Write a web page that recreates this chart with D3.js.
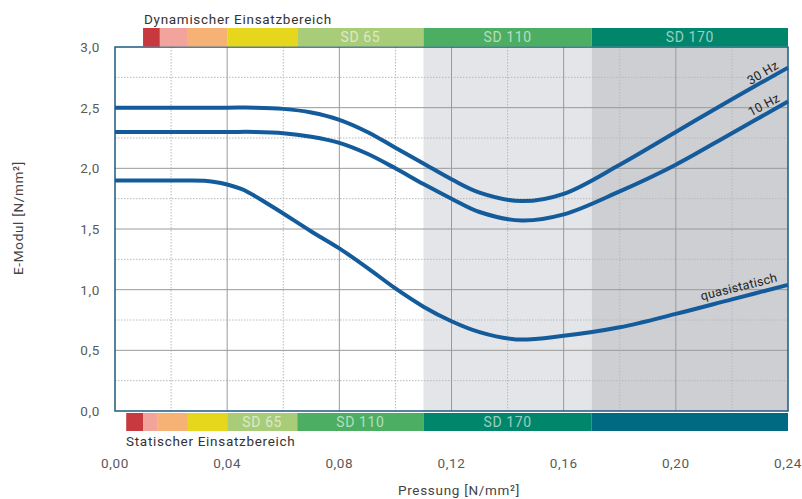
<!DOCTYPE html>
<html><head><meta charset="utf-8">
<script src="https://cdn.jsdelivr.net/npm/d3@7"></script>
<style>body{margin:0;background:#fff}svg{display:block}text{font-family:"Roboto","Liberation Sans",sans-serif}</style>
</head><body><svg id="c" width="802" height="499"></svg>
<script>
const pressure = [0, 0.02, 0.04, 0.05, 0.06, 0.07, 0.08, 0.09, 0.10, 0.11, 0.12, 0.13, 0.145, 0.16, 0.18, 0.20, 0.22, 0.24];
const hz30 =     [2.50, 2.50, 2.50, 2.50, 2.49, 2.46, 2.40, 2.30, 2.17, 2.04, 1.91, 1.80, 1.73, 1.79, 2.03, 2.30, 2.57, 2.83];
const hz10 =     [2.30, 2.30, 2.30, 2.30, 2.29, 2.26, 2.21, 2.12, 2.00, 1.87, 1.75, 1.64, 1.57, 1.62, 1.81, 2.03, 2.29, 2.55];
const quasiX =   [0, 0.015, 0.025, 0.035, 0.045, 0.055, 0.07, 0.08, 0.09, 0.10, 0.11, 0.12, 0.13, 0.143, 0.16, 0.18, 0.20, 0.22, 0.24];
const quasi =    [1.90, 1.90, 1.90, 1.89, 1.83, 1.70, 1.48, 1.34, 1.18, 1.01, 0.86, 0.74, 0.65, 0.59, 0.62, 0.69, 0.80, 0.92, 1.04];
const xTicks = [0, 0.04, 0.08, 0.12, 0.16, 0.20, 0.24];
const yTicks = [0, 0.5, 1.0, 1.5, 2.0, 2.5, 3.0];
const shadeBands = [[0.11, 0.17, "#e3e5e8"], [0.17, 0.24, "#cdcfd3"]];
const dynBreaks = [0.010, 0.016, 0.026, 0.040, 0.065, 0.110, 0.170, 0.240];
const dynColors = ["#c8393f", "#f2a39b", "#f6b274", "#e6d71c", "#a9cc79", "#4bae63", "#00876b"];
const dynLabels = ["", "", "", "", "SD 65", "SD 110", "SD 170"];
const statBreaks = [0.004, 0.010, 0.015, 0.026, 0.040, 0.065, 0.110, 0.170, 0.240];
const statColors = ["#c8393f", "#f2a39b", "#f6b274", "#e6d71c", "#a9cc79", "#4bae63", "#00876b", "#006a83"];
const statLabels = ["", "", "", "", "SD 65", "SD 110", "SD 170", ""];

const svg = d3.select("#c");
const L = 115, R = 788, T = 47, B = 411;
const x = d3.scaleLinear().domain([0, 0.24]).range([L, R]);
const y = d3.scaleLinear().domain([0, 3]).range([B, T]);
const fmt = v => d3.format(".2f")(v).replace(".", ",");
const fmtY = v => d3.format(".1f")(v).replace(".", ",");

svg.selectAll("rect.shade").data(shadeBands).join("rect")
  .attr("x", d => x(d[0])).attr("width", d => x(d[1]) - x(d[0]))
  .attr("y", T).attr("height", B - T).attr("fill", d => d[2]);

const g = svg.append("g");
const vMinor = d3.range(0.02, 0.24, 0.04);
const hMinor = d3.range(0.25, 3, 0.5);
g.selectAll("line.vm").data(vMinor).join("line")
  .attr("x1", d => x(d)).attr("x2", d => x(d)).attr("y1", T).attr("y2", B)
  .attr("stroke", "#b8b8b8").attr("stroke-dasharray", "1.5,1.5");
g.selectAll("line.hm").data(hMinor).join("line")
  .attr("y1", d => y(d)).attr("y2", d => y(d)).attr("x1", L).attr("x2", R)
  .attr("stroke", "#b8b8b8").attr("stroke-dasharray", "1.5,1.5");
g.selectAll("line.vM").data(xTicks.slice(1, -1)).join("line")
  .attr("x1", d => x(d)).attr("x2", d => x(d)).attr("y1", T).attr("y2", B)
  .attr("stroke", "#9a9a9a");
g.selectAll("line.hM").data(yTicks.slice(1, -1)).join("line")
  .attr("y1", d => y(d)).attr("y2", d => y(d)).attr("x1", L).attr("x2", R)
  .attr("stroke", "#9a9a9a");

svg.append("rect").attr("x", L).attr("y", T).attr("width", R - L).attr("height", B - T)
  .attr("fill", "none").attr("stroke", "#1d5a80").attr("stroke-width", 1.5);

function bar(breaks, colors, labels, y0, h) {
  const segs = colors.map((c, i) => ({a: breaks[i], b: breaks[i + 1], c, t: labels[i]}));
  svg.selectAll(null).data(segs).join("rect")
    .attr("x", d => x(d.a)).attr("width", d => x(d.b) - x(d.a))
    .attr("y", y0).attr("height", h).attr("fill", d => d.c);
  svg.selectAll(null).data(segs.filter(d => d.t)).join("text")
    .attr("x", d => (x(d.a) + x(d.b)) / 2).attr("y", y0 + h / 2 + 5)
    .attr("text-anchor", "middle").attr("font-size", 14).attr("letter-spacing", 0.6)
    .attr("fill", "rgba(255,255,255,0.6)").text(d => d.t);
}
bar(dynBreaks, dynColors, dynLabels, 28, 18.5);
bar(statBreaks, statColors, statLabels, 413, 18);

svg.append("text").attr("x", 144).attr("y", 24).attr("font-size", 13.5).attr("letter-spacing", 0.7)
  .attr("fill", "#333").text("Dynamischer Einsatzbereich");
svg.append("text").attr("x", 126).attr("y", 446).attr("font-size", 13.5).attr("letter-spacing", 0.7)
  .attr("fill", "#333").text("Statischer Einsatzbereich");

svg.selectAll("text.xt").data(xTicks).join("text")
  .attr("x", d => x(d)).attr("y", 468).attr("text-anchor", "middle")
  .attr("font-size", 13.5).attr("letter-spacing", 0.6).attr("fill", "#5a5a5a").text(fmt);
svg.selectAll("text.yt").data(yTicks).join("text")
  .attr("x", 100).attr("y", d => y(d) + 5).attr("text-anchor", "end")
  .attr("font-size", 13.5).attr("letter-spacing", 0.6).attr("fill", "#5a5a5a").text(fmtY);
svg.append("text").attr("x", 459).attr("y", 495).attr("text-anchor", "middle")
  .attr("font-size", 13.5).attr("letter-spacing", 0.7).attr("fill", "#444").text("Pressung [N/mm²]");
svg.append("text").attr("transform", "translate(23,218) rotate(-90)").attr("text-anchor", "middle")
  .attr("font-size", 13.5).attr("letter-spacing", 0.7).attr("fill", "#444").text("E-Modul [N/mm²]");

const line = d3.line().x(d => x(d[0])).y(d => y(d[1])).curve(d3.curveCatmullRom.alpha(0.5));
const series = [d3.zip(pressure, hz30), d3.zip(pressure, hz10), d3.zip(quasiX, quasi)];
svg.selectAll("path.s").data(series).join("path")
  .attr("d", line).attr("fill", "none").attr("stroke", "#135b9b").attr("stroke-width", 4)
  .attr("stroke-linecap", "butt");

const lab = [["30 Hz", 763, 73, -31], ["10 Hz", 764, 105, -28], ["quasistatisch", 739, 287, -14]];
svg.selectAll("text.cl").data(lab).join("text")
  .attr("transform", d => `translate(${d[1]},${d[2]}) rotate(${d[3]})`)
  .attr("text-anchor", "middle").attr("dy", 4).attr("font-size", 12.5).attr("letter-spacing", 0.3)
  .attr("fill", "#222").text(d => d[0]);
</script></body></html>
